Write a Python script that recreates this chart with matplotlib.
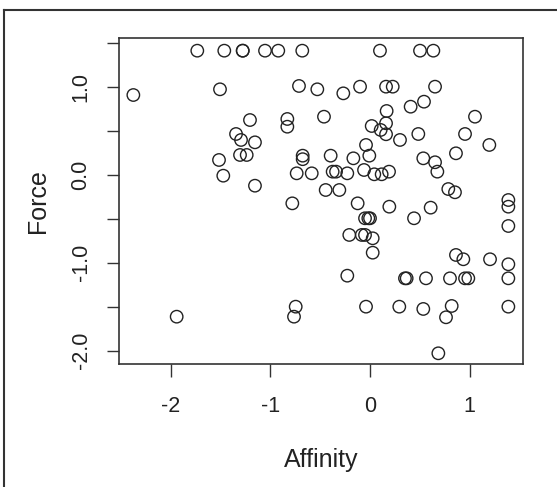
import matplotlib
matplotlib.use("Agg")
import matplotlib.pyplot as plt
from matplotlib.lines import Line2D

plt.rcParams['font.family'] = ['Liberation Sans', 'DejaVu Sans']

affinity = [-1.734, -1.463, -1.278, -1.278, -1.054, -0.921, -0.680, 0.100, 0.502, 0.636,
            -2.376, -1.506, -0.713, -1.205, -0.830, -0.830, -1.345, -1.295, -1.155, -1.516,
            -1.305, -1.238, -0.676, -0.676, -1.473, -0.736, -0.585, -1.155, -0.780, -0.529,
            -0.268, -0.100, 0.161, 0.228, 0.653, 0.542, 0.408, 0.167, -0.462, 1.054,
            0.017, 0.161, 0.107, 0.161, 0.301, 0.485, 0.954, 1.198, -0.040, -0.007,
            -0.395, -0.167, 0.863, 0.535, 0.653, 0.676, -0.375, -0.341, -0.228, -0.060,
            0.043, 0.117, 0.191, -0.445, -0.308, 0.786, 0.853, -0.124, 0.194, 0.609,
            1.389, 1.389, 1.389, -0.050, -0.017, 0.000, 0.442, -0.208, -0.083, -0.050,
            0.027, 0.027, 0.863, 0.937, 1.205, 1.389, 1.389, -0.228, 0.351, 0.368,
            0.562, 0.803, 0.954, 0.987, -0.040, 0.294, 0.535, 0.820, 0.763, 0.686,
            1.389, -1.941, -0.746, -0.763]
force = [1.416, 1.416, 1.416, 1.416, 1.416, 1.416, 1.416, 1.416, 1.416, 1.416,
         0.911, 0.976, 1.014, 0.626, 0.638, 0.550, 0.467, 0.399, 0.372, 0.171,
         0.228, 0.228, 0.220, 0.180, -0.008, 0.019, 0.019, -0.122, -0.323, 0.976,
         0.930, 1.006, 1.006, 1.006, 1.006, 0.835, 0.778, 0.729, 0.664, 0.664,
         0.558, 0.589, 0.513, 0.464, 0.399, 0.467, 0.467, 0.342, 0.342, 0.220,
         0.220, 0.190, 0.247, 0.190, 0.145, 0.038, 0.038, 0.038, 0.019, 0.057,
         0.008, 0.008, 0.038, -0.171, -0.171, -0.160, -0.197, -0.323, -0.361, -0.372,
         -0.285, -0.361, -0.581, -0.493, -0.493, -0.493, -0.493, -0.683, -0.683, -0.683,
         -0.721, -0.885, -0.911, -0.960, -0.960, -1.017, -1.177, -1.147, -1.177, -1.177,
         -1.177, -1.177, -1.177, -1.177, -1.500, -1.500, -1.526, -1.492, -1.621, -2.031,
         -1.500, -1.614, -1.500, -1.614]

x_ticks = [-2, -1, 0, 1]
x_ticklabels = ['-2', '-1', '0', '1']
y_ticks = [-2.0, -1.5, -1.0, -0.5, 0.0, 0.5, 1.0, 1.5]
y_ticklabels = ['-2.0', '', '-1.0', '', '0.0', '', '1.0', '']

W, H = 557, 487
fig = plt.figure(figsize=(W / 100, H / 100), dpi=100)
ax = fig.add_axes([119.3 / W, (H - 364) / H, 404 / W, 325.7 / H])

ax.scatter(affinity, force, s=80, facecolors='none', edgecolors='#222222', linewidths=1.0)

ax.set_xlim(-2.517, 1.539)
ax.set_ylim(-2.153, 1.557)
ax.set_xticks(x_ticks)
ax.set_xticklabels(x_ticklabels)
ax.set_yticks(y_ticks)
ax.set_yticklabels(y_ticklabels, rotation=90, va='center')
ax.tick_params(axis='both', direction='out', length=9, width=1.0, color='#333333',
               labelsize=15.5, labelcolor='#222222')
ax.tick_params(axis='x', pad=14)
ax.tick_params(axis='y', pad=11)
for sp in ax.spines.values():
    sp.set_linewidth(1.2)
    sp.set_color('#333333')

ax.set_xlabel('Affinity', fontsize=18, color='#222222', labelpad=22)
ax.set_ylabel('Force', fontsize=18, color='#222222', labelpad=15)

# outer frame (left and top edges visible)
fig.add_artist(Line2D([4 / W, 4 / W], [0, 1 - 10 / H], transform=fig.transFigure,
                      color='#333333', linewidth=1.5))
fig.add_artist(Line2D([4 / W, 1], [1 - 10 / H, 1 - 10 / H], transform=fig.transFigure,
                      color='#333333', linewidth=1.5))

fig.savefig('out.png', dpi=100, facecolor='white')
